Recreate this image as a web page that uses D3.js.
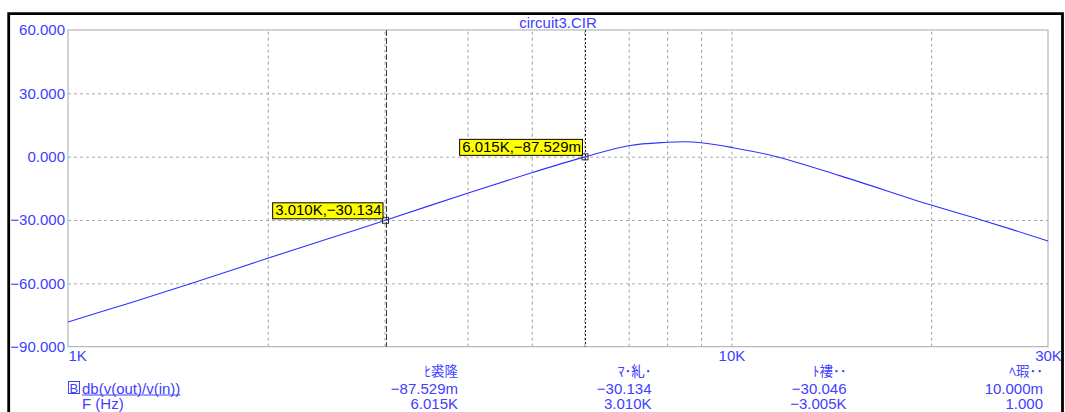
<!DOCTYPE html>
<html>
<head>
<meta charset="utf-8">
<script src="https://cdn.jsdelivr.net/npm/d3@7"></script>
<style>
  html, body { margin: 0; padding: 0; background: #fff; }
  svg { display: block; }
  text { font-family: "Liberation Sans", Arial, sans-serif; font-size: 15px; }
  .cjk { font-family: "Noto Sans CJK JP", "Liberation Sans", sans-serif; font-size: 13.5px; }
</style>
</head>
<body>
<svg id="chart" width="1065" height="412"></svg>
<script>
// Gain trace of circuit3.CIR: db(v(out)/v(in)) against frequency
const curveFreq = [1000, 1250, 1545, 2000, 2500, 3010, 4000, 5000, 6015, 7000, 8000, 8500, 9000, 10000, 11700, 14600, 20000, 24000, 30000];
const curveDb   = [-78.3, -68.9, -59.7, -48.1, -38.3, -30.134, -17.3, -7.6, -0.087529, 5.2, 6.8, 7.1, 6.6, 4.4, 0.0, -9.1, -22.9, -30.3, -39.9];

// Axis ticks
const yTicks = [60, 30, 0, -30, -60, -90];
const yGrid = [30, 0, -30, -60];
const xLabelValues = [1000, 10000, 30000];
const xLabelTexts = ["1K", "10K", "30K"];
const xGrid = [2000, 3000, 4000, 5000, 6000, 7000, 8000, 9000, 10000, 20000];

// Cursors
const cursorFreq = [3010, 6015];
const cursorDb = [-30.134, -0.087529];
const cursorLabels = ["3.010K,\u221230.134", "6.015K,\u221287.529m"];

// Readout table beneath the plot
const readHeaders = ["\uFF8B\u88D8\u9686", "\uFF8F\uFF65\u7CFA\uFF65", "\uFF84\u8938\uFF65\uFF65", "\uFF8D\u7455\uFF65\uFF65"];
const readTrace = ["\u221287.529m", "\u221230.134", "\u221230.046", "10.000m"];
const readFreq = ["6.015K", "3.010K", "\u22123.005K", "1.000"];
const traceName = "db(v(out)/v(in))";
const freqName = "F (Hz)";
const title = "circuit3.CIR";

const blue = "#4040ff";
const svg = d3.select("#chart");

const plot = { left: 68, right: 1048, top: 30, bottom: 346.7 };
const x = d3.scaleLog().domain([1000, 30000]).range([plot.left, plot.right]);
const y = d3.scaleLinear().domain([-90, 60]).range([plot.bottom, plot.top]);

// Outer frame
svg.append("path")
  .attr("d", `M8.7,420 V13.7 H1062.5 V420`)
  .attr("fill", "none").attr("stroke", "#000").attr("stroke-width", 2.8);

// Horizontal grid
svg.append("g")
  .attr("transform", `translate(${plot.left},0)`)
  .call(d3.axisLeft(y).tickValues(yGrid).tickSize(-(plot.right - plot.left)).tickFormat(""))
  .call(g => g.select(".domain").remove())
  .call(g => g.selectAll("line").attr("stroke", "#a8a8a8").attr("stroke-dasharray", "3,3"));

// Vertical grid
svg.append("g")
  .attr("transform", `translate(0,${plot.bottom})`)
  .call(d3.axisBottom(x).tickValues(xGrid).tickSize(-(plot.bottom - plot.top)).tickFormat(""))
  .call(g => g.select(".domain").remove())
  .call(g => g.selectAll("line").attr("stroke", "#a0a0a0").attr("stroke-dasharray", "3,3"));

// Plot border
svg.append("rect")
  .attr("x", plot.left).attr("y", plot.top)
  .attr("width", plot.right - plot.left).attr("height", plot.bottom - plot.top)
  .attr("fill", "none").attr("stroke", "#a8a8a8").attr("stroke-width", 1);

// Y tick labels
svg.append("g")
  .attr("transform", `translate(${plot.left},0)`)
  .call(d3.axisLeft(y).tickValues(yTicks).tickSize(0).tickPadding(3)
    .tickFormat(d => d3.format(".3f")(d)))
  .call(g => g.select(".domain").remove())
  .call(g => g.selectAll("text").attr("fill", blue).style("font-size", "15px")
    .style("font-family", "'Liberation Sans', Arial, sans-serif"));

// X tick labels
svg.append("g")
  .attr("transform", `translate(0,${plot.bottom})`)
  .call(d3.axisBottom(x).tickValues(xLabelValues).tickSize(0).tickPadding(4)
    .tickFormat((d, i) => xLabelTexts[i]))
  .call(g => g.select(".domain").remove())
  .call(g => g.selectAll("text").attr("fill", blue).style("font-size", "15px")
    .style("font-family", "'Liberation Sans', Arial, sans-serif")
    .attr("text-anchor", (d, i) => i === 0 ? "start" : "middle"));

// Title
svg.append("text")
  .attr("x", (plot.left + plot.right) / 2).attr("y", 28)
  .attr("text-anchor", "middle").attr("fill", blue)
  .text(title);

// Cursor lines
const cursorDash = ["6,2", "2,2"];
const cursorColor = ["#404040", "#202020"];
svg.selectAll("line.cursor").data(cursorFreq).join("line")
  .attr("class", "cursor")
  .attr("x1", d => Math.round(x(d)) + 0.5).attr("x2", d => Math.round(x(d)) + 0.5)
  .attr("y1", plot.top).attr("y2", plot.bottom)
  .attr("stroke", (d, i) => cursorColor[i])
  .attr("stroke-dasharray", (d, i) => cursorDash[i])
  .attr("stroke-width", 1);

// Trace
const points = curveFreq.map((f, i) => [f, curveDb[i]]);
svg.append("path")
  .datum(points)
  .attr("fill", "none")
  .attr("stroke", "#3030ff")
  .attr("stroke-width", 1.1)
  .attr("d", d3.line().x(d => x(d[0])).y(d => y(d[1])).curve(d3.curveCatmullRom.alpha(0.5)));

// Cursor markers and labels
cursorFreq.forEach((f, i) => {
  const px = x(f), py = y(cursorDb[i]);
  svg.append("rect")
    .attr("x", px - 3).attr("y", py - 3).attr("width", 6).attr("height", 6)
    .attr("fill", "none").attr("stroke", "#303030").attr("stroke-width", 1);
  const g = svg.append("g");
  const box = g.append("rect");
  const t = g.append("text")
    .attr("fill", "#000")
    .attr("text-anchor", "end")
    .attr("x", px - 4).attr("y", py - 5)
    .text(cursorLabels[i]);
  const w = t.node().getComputedTextLength();
  box.attr("x", px - 4 - w - 2.5).attr("y", py - 17.5)
    .attr("width", w + 4).attr("height", 16)
    .attr("fill", "#ffff00").attr("stroke", "#000").attr("stroke-width", 1);
});

// Readout table
const colRight = [458, 651.5, 846.5, 1043];
const rowY = [376, 393.5, 408.5];
svg.selectAll("text.hdr").data(readHeaders).join("text")
  .attr("class", "hdr cjk")
  .attr("x", (d, i) => colRight[i]).attr("y", rowY[0])
  .attr("text-anchor", "end").attr("fill", blue).text(d => d);
svg.selectAll("text.trv").data(readTrace).join("text")
  .attr("class", "trv")
  .attr("x", (d, i) => colRight[i]).attr("y", rowY[1])
  .attr("text-anchor", "end").attr("fill", blue).text(d => d);
svg.selectAll("text.frv").data(readFreq).join("text")
  .attr("class", "frv")
  .attr("x", (d, i) => colRight[i]).attr("y", rowY[2])
  .attr("text-anchor", "end").attr("fill", blue).text(d => d);

// Trace name with its boxed marker
svg.append("rect")
  .attr("x", 68.5).attr("y", 381.5).attr("width", 11).attr("height", 12)
  .attr("fill", "none").attr("stroke", blue).attr("stroke-width", 1);
svg.append("text").attr("x", 69.5).attr("y", rowY[1] - 0.5).attr("fill", blue)
  .style("font-size", "13px").text("B");
const tn = svg.append("text").attr("x", 82).attr("y", rowY[1]).attr("fill", blue).text(traceName);
const tnw = tn.node().getComputedTextLength();
svg.append("line")
  .attr("x1", 82).attr("x2", 82 + tnw).attr("y1", rowY[1] + 1.5).attr("y2", rowY[1] + 1.5)
  .attr("stroke", blue).attr("stroke-width", 1);
svg.append("text").attr("x", 82).attr("y", rowY[2]).attr("fill", blue).text(freqName);
</script>
</body>
</html>
